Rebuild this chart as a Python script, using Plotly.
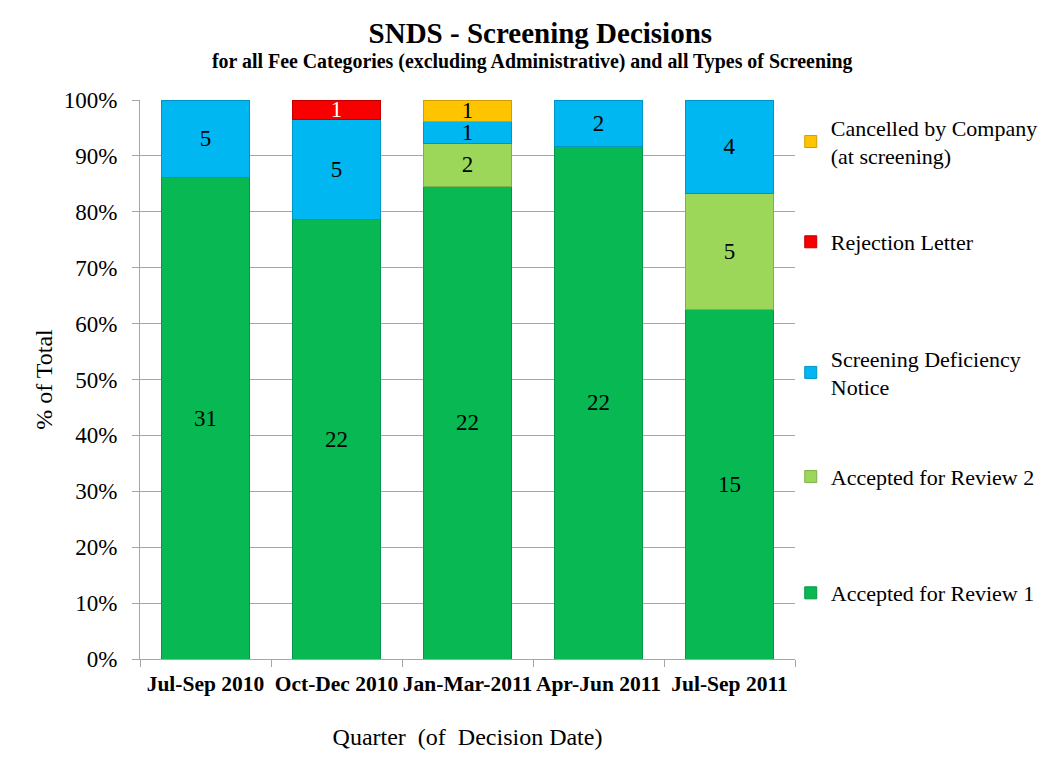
import plotly.graph_objects as go

quarters = ["Jul-Sep 2010", "Oct-Dec 2010", "Jan-Mar-2011", "Apr-Jun 2011", "Jul-Sep 2011"]
accepted_1 = [31, 22, 22, 22, 15]
accepted_2 = [0, 0, 2, 0, 5]
deficiency = [5, 5, 1, 2, 4]
rejection = [0, 1, 0, 0, 0]
cancelled = [0, 0, 1, 0, 0]
y_ticks = [0, 10, 20, 30, 40, 50, 60, 70, 80, 90, 100]

series = [
    ("Accepted for Review 1", accepted_1, "#07B853", "#06954A", "black", "legend", 0.118),
    ("Accepted for Review 2", accepted_2, "#9DD75A", "#7FB04A", "black", "legend2", 0.326),
    ("Screening Deficiency<br>Notice", deficiency, "#00B7F1", "#0093C4", "black", "legend3", 0.512),
    ("Rejection Letter", rejection, "#F80000", "#C00000", "white", "legend4", 0.746),
    ("Cancelled by Company<br>(at screening)", cancelled, "#FFC400", "#D09E00", "black", "legend5", 0.925),
]

fig = go.Figure()
legend_cfg = {}
for name, vals, col, edge, tcol, lg, ly in series:
    fig.add_trace(go.Bar(
        x=quarters, y=[v if v else None for v in vals], name=name,
        marker=dict(color=col, line=dict(color=edge, width=1)),
        text=[str(v) if v else "" for v in vals],
        textposition="inside", insidetextanchor="middle", textangle=0,
        textfont=dict(family="Liberation Serif", size=23, color=tcol),
        legend=lg,
        hoverinfo="skip",
    ))
    legend_cfg[lg] = dict(
        x=0.9935, xanchor="left", y=ly, yanchor="middle",
        font=dict(family="Liberation Serif", size=22, color="black"),
        itemwidth=30, bgcolor="rgba(0,0,0,0)",
    )

fig.update_layout(
    barmode="stack", barnorm="percent", bargap=0.33,
    width=1050, height=769,
    paper_bgcolor="white", plot_bgcolor="white",
    margin=dict(l=132, r=263, t=92, b=118, autoexpand=False),
    font=dict(family="Liberation Serif", color="black"),
    uniformtext=dict(minsize=23, mode="show"),
    title=dict(
        text="<b>SNDS - Screening Decisions</b>",
        x=0.507, xanchor="center", y=0.9675, yanchor="middle",
        font=dict(family="Liberation Serif", size=29, color="black"),
    ),
    showlegend=True,
    **legend_cfg,
)

fig.add_annotation(
    text="<b>for all Fee Categories (excluding Administrative) and all Types of Screening</b>",
    xref="paper", yref="paper", x=0.599, y=1.068, xanchor="center", yanchor="middle",
    showarrow=False, font=dict(family="Liberation Serif", size=19.9, color="black"),
)

fig.update_yaxes(
    range=[0, 100], tickvals=y_ticks, ticktext=[f"{v}%" for v in y_ticks],
    showgrid=True, gridcolor="#A6A6A6", gridwidth=1,
    showline=True, linecolor="#A6A6A6", linewidth=1,
    ticks="outside", ticklen=7, tickcolor="#A6A6A6", ticklabelstandoff=10,
    tickfont=dict(family="Liberation Serif", size=23, color="black"),
    title=dict(text="% of Total", font=dict(family="Liberation Serif", size=24, color="black"), standoff=4),
    zeroline=False, automargin=False,
)
fig.update_xaxes(
    showline=True, linecolor="#A6A6A6", linewidth=1,
    ticks="outside", tickson="boundaries", ticklen=7, tickcolor="#A6A6A6",
    tickangle=0, automargin=False, ticklabelstandoff=5,
    tickfont=dict(family="Liberation Serif", size=21.5, color="black"),
    tickprefix="<b>", ticksuffix="</b>",
    title=dict(text="Quarter  (of  Decision Date)", font=dict(family="Liberation Serif", size=24, color="black"), standoff=33),
)

fig.add_shape(type="rect", xref="paper", yref="paper",
              x0=-0.203, x1=1.40, y0=-0.25, y1=1.17,
              line=dict(color="#A0A0A0", width=1), fillcolor="rgba(0,0,0,0)", layer="below")

fig.write_html("out.html")
